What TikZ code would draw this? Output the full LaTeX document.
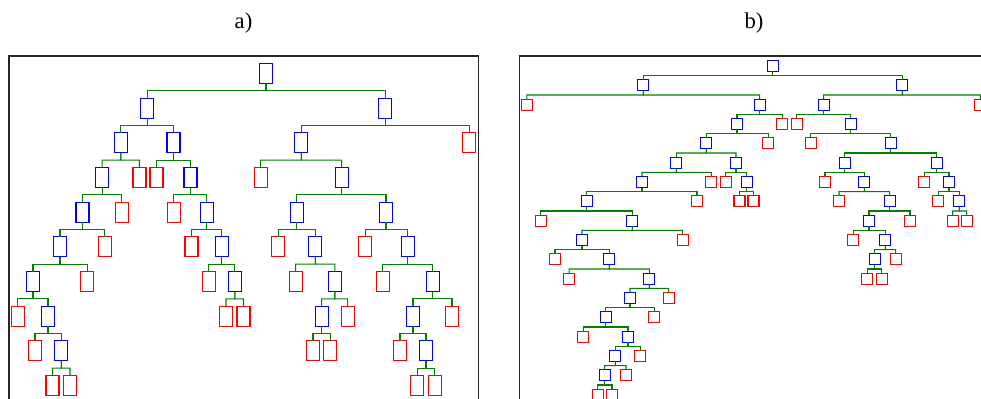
\documentclass[tikz,border=0pt]{standalone}
\usepackage{fontspec}
\setmainfont{Liberation Serif}
\usetikzlibrary{calc}
\definecolor{cgreen}{RGB}{0,128,0}
\tikzset{
  boxa/.style={draw, line width=1pt, inner sep=0pt, outer sep=0pt, minimum width=9.75pt, minimum height=15pt, fill=white},
  boxb/.style={draw, line width=1pt, inner sep=0pt, outer sep=0pt, minimum width=8.25pt, minimum height=8.25pt, fill=white},
  ba/.style={boxa, draw=blue}, ra/.style={boxa, draw=red},
  bb/.style={boxb, draw=blue}, rb/.style={boxb, draw=red},
  conn/.style={draw=cgreen, line width=0.8pt},
  elbow/.style={to path={-- ($(\tikztostart)!0.5!(\tikztostart|-\tikztotarget)$) -| (\tikztotarget)}},
  frame/.style={draw=black!85, line width=1pt},
  title/.style={font=\fontsize{17}{20}\selectfont, anchor=base}
}
\newcommand\kid[5]{\node[#1] (#2) at (#3,#4) {}; \draw[conn] (#5.south) to[elbow] (#2.north);}
\begin{document}
\begin{tikzpicture}[x=0.75pt,y=-0.75pt]
\useasboundingbox (0,0) rectangle (981,399);
\clip (0,0) rectangle (981,399);
\node[title] (ta) at (243.5,29) {a)};
\node[title] (tb) at (754,29) {b)};
\draw[frame] (9,56) rectangle (478.3,420);
\draw[frame] (519.5,56) rectangle (1000,420);
% ---------------- panel a ----------------
\node[ba] (a0) at (266,73.5) {};
\kid{ba}{a1}{147.2}{108.17}{a0}
\kid{ba}{a2}{385.2}{108.17}{a0}
\kid{ba}{a3}{120.8}{142.83}{a1}
\kid{ba}{a4}{173.5}{142.83}{a1}
\kid{ba}{a5}{102.2}{177.5}{a3}
\kid{ra}{a6}{139.5}{177.5}{a3}
\kid{ra}{a7}{156.5}{177.5}{a4}
\kid{ba}{a8}{190.5}{177.5}{a4}
\kid{ba}{a9}{82.5}{212.17}{a5}
\kid{ra}{a10}{121.8}{212.17}{a5}
\kid{ra}{a11}{173.8}{212.17}{a8}
\kid{ba}{a12}{206.7}{212.17}{a8}
\kid{ba}{a13}{60}{246.83}{a9}
\kid{ra}{a14}{104.7}{246.83}{a9}
\kid{ra}{a15}{191.5}{246.83}{a12}
\kid{ba}{a16}{221.7}{246.83}{a12}
\kid{ba}{a17}{33}{281.5}{a13}
\kid{ra}{a18}{87.3}{281.5}{a13}
\kid{ra}{a19}{208.7}{281.5}{a16}
\kid{ba}{a20}{234.8}{281.5}{a16}
\kid{ra}{a21}{17.7}{316.17}{a17}
\kid{ba}{a22}{48}{316.17}{a17}
\kid{ra}{a23}{226}{316.17}{a20}
\kid{ra}{a24}{243.5}{316.17}{a20}
\kid{ra}{a25}{35}{350.83}{a22}
\kid{ba}{a26}{61.3}{350.83}{a22}
\kid{ra}{a27}{52.5}{385.5}{a26}
\kid{ra}{a28}{70}{385.5}{a26}
\kid{ba}{a29}{301.3}{142.83}{a2}
\kid{ra}{a30}{469.3}{142.83}{a2}
\kid{ra}{a31}{260.7}{177.5}{a29}
\kid{ba}{a32}{341.7}{177.5}{a29}
\kid{ba}{a33}{296.7}{212.17}{a32}
\kid{ba}{a34}{386}{212.17}{a32}
\kid{ra}{a35}{278.3}{246.83}{a33}
\kid{ba}{a36}{315.3}{246.83}{a33}
\kid{ra}{a37}{365.3}{246.83}{a34}
\kid{ba}{a38}{407.7}{246.83}{a34}
\kid{ra}{a39}{295.7}{281.5}{a36}
\kid{ba}{a40}{334.8}{281.5}{a36}
\kid{ra}{a41}{382.7}{281.5}{a38}
\kid{ba}{a42}{432.7}{281.5}{a38}
\kid{ba}{a43}{321.7}{316.17}{a40}
\kid{ra}{a44}{347.7}{316.17}{a40}
\kid{ba}{a45}{413}{316.17}{a42}
\kid{ra}{a46}{452}{316.17}{a42}
\kid{ra}{a47}{313}{350.83}{a43}
\kid{ra}{a48}{330.3}{350.83}{a43}
\kid{ra}{a49}{400}{350.83}{a45}
\kid{ba}{a50}{426}{350.83}{a45}
\kid{ra}{a51}{417.3}{385.5}{a50}
\kid{ra}{a52}{434.7}{385.5}{a50}
% ---------------- panel b ----------------
\node[bb] (b0) at (772.7,66) {};
\kid{bb}{b1}{643.3}{85.33}{b0}
\kid{bb}{b2}{902.3}{85.33}{b0}
\kid{rb}{b3}{526.8}{104.67}{b1}
\kid{bb}{b4}{759.7}{104.67}{b1}
\kid{bb}{b5}{823.7}{104.67}{b2}
\kid{rb}{b6}{980.3}{104.67}{b2}
\kid{bb}{b7}{737}{124}{b4}
\kid{rb}{b8}{782.3}{124}{b4}
\kid{rb}{b9}{796.7}{124}{b5}
\kid{bb}{b10}{850.7}{124}{b5}
\kid{bb}{b11}{706.3}{143.33}{b7}
\kid{rb}{b12}{768.3}{143.33}{b7}
\kid{rb}{b13}{810.7}{143.33}{b10}
\kid{bb}{b14}{890.7}{143.33}{b10}
\kid{bb}{b15}{676.3}{162.67}{b11}
\kid{bb}{b16}{736}{162.67}{b11}
\kid{bb}{b17}{844.7}{162.67}{b14}
\kid{bb}{b18}{936.7}{162.67}{b14}
\kid{bb}{b19}{642}{182}{b15}
\kid{rb}{b20}{711.3}{182}{b15}
\kid{rb}{b21}{725.7}{182}{b16}
\kid{bb}{b22}{746.7}{182}{b16}
\kid{rb}{b23}{825}{182}{b17}
\kid{bb}{b24}{864.3}{182}{b17}
\kid{rb}{b25}{924.3}{182}{b18}
\kid{bb}{b26}{949}{182}{b18}
\kid{bb}{b27}{586.7}{201.33}{b19}
\kid{rb}{b28}{697}{201.33}{b19}
\kid{rb}{b29}{739.5}{201.33}{b22}
\kid{rb}{b30}{753.5}{201.33}{b22}
\kid{rb}{b31}{839}{201.33}{b24}
\kid{bb}{b32}{889.7}{201.33}{b24}
\kid{rb}{b33}{938.3}{201.33}{b26}
\kid{bb}{b34}{959.3}{201.33}{b26}
\kid{rb}{b35}{540.7}{220.67}{b27}
\kid{bb}{b36}{632.3}{220.67}{b27}
\kid{bb}{b37}{869}{220.67}{b32}
\kid{rb}{b38}{910}{220.67}{b32}
\kid{rb}{b39}{952.7}{220.67}{b34}
\kid{rb}{b40}{966.7}{220.67}{b34}
\kid{bb}{b41}{582}{240}{b36}
\kid{rb}{b42}{682.7}{240}{b36}
\kid{rb}{b43}{853.3}{240}{b37}
\kid{bb}{b44}{885.3}{240}{b37}
\kid{rb}{b45}{555}{259.33}{b41}
\kid{bb}{b46}{609.3}{259.33}{b41}
\kid{bb}{b47}{874.7}{259.33}{b44}
\kid{rb}{b48}{895.7}{259.33}{b44}
\kid{rb}{b49}{569.2}{278.67}{b46}
\kid{bb}{b50}{649.3}{278.67}{b46}
\kid{rb}{b51}{867.3}{278.67}{b47}
\kid{rb}{b52}{881.7}{278.67}{b47}
\kid{bb}{b53}{630}{298}{b50}
\kid{rb}{b54}{668.7}{298}{b50}
\kid{bb}{b55}{605.7}{317.33}{b53}
\kid{rb}{b56}{654.3}{317.33}{b53}
\kid{rb}{b57}{583.3}{336.67}{b55}
\kid{bb}{b58}{628}{336.67}{b55}
\kid{bb}{b59}{615.3}{356}{b58}
\kid{rb}{b60}{640.3}{356}{b58}
\kid{bb}{b61}{604.7}{375.33}{b59}
\kid{rb}{b62}{626}{375.33}{b59}
\kid{rb}{b63}{597.7}{394.67}{b61}
\kid{rb}{b64}{612}{394.67}{b61}
\end{tikzpicture}
\end{document}
